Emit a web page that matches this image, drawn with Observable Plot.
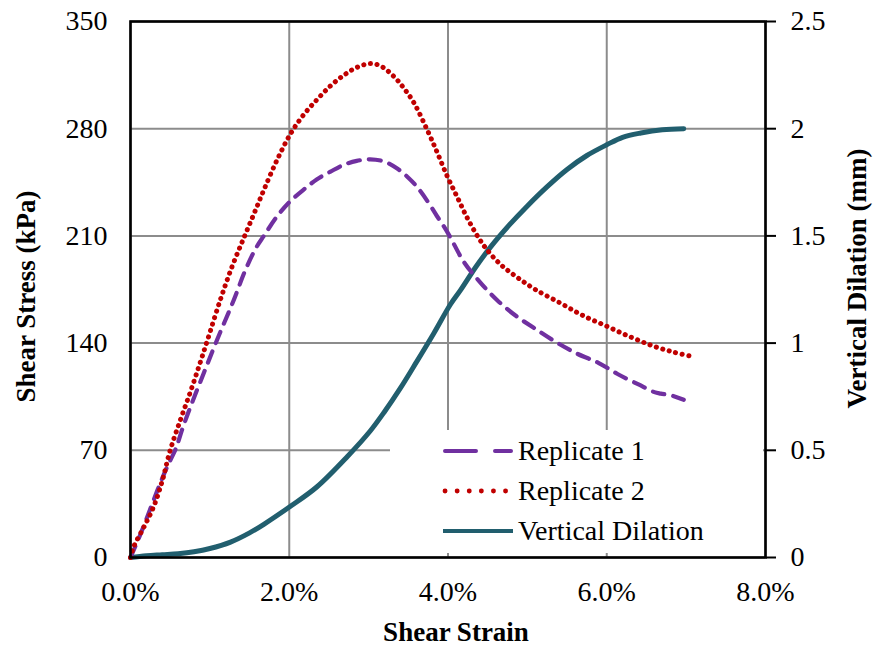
<!DOCTYPE html>
<html>
<head>
<meta charset="utf-8">
<script src="https://cdn.jsdelivr.net/npm/d3@7"></script>
<script src="https://cdn.jsdelivr.net/npm/@observablehq/plot@0.6"></script>
<style>
  html, body { margin: 0; padding: 0; background: #fff; }
  #wrap { position: relative; width: 874px; height: 646px; font-family: "Liberation Serif", "Times New Roman", serif; }
  #legend { position: absolute; left: 390px; top: 430px; width: 373px; height: 123px; background: #fff; }
  #legend svg { position: absolute; left: 0; top: 0; }
</style>
</head>
<body>
<div id="wrap"></div>
<script>
// ---- Data (strain in %, stress in kPa, dilation in mm) ----
const rep1Strain = [0, 0.1, 0.2, 0.34, 0.46, 0.57, 0.66, 0.76, 0.92, 1.09, 1.30, 1.45, 1.58, 1.68, 1.85, 2.02, 2.2, 2.35, 2.52, 2.69, 2.85, 3.02, 3.2, 3.36, 3.5, 3.61, 3.75, 3.86, 3.95, 4.03, 4.2, 4.4, 4.62, 4.85, 5.08, 5.35, 5.63, 5.9, 6.13, 6.4, 6.6, 6.68, 6.8, 6.97];
const rep1Stress = [0, 12, 25, 44, 59, 71, 85, 99, 120, 142, 168, 188, 202, 210, 223, 233, 241, 247, 252, 256.5, 259, 260, 258.5, 254, 248, 242, 232, 223, 216, 209, 193, 180, 168, 158, 150, 141, 133, 127, 120, 113, 108, 107, 106, 103];

const rep2Strain = [0, 0.04, 0.17, 0.29, 0.40, 0.50, 0.63, 0.76, 0.87, 0.97, 1.13, 1.28, 1.43, 1.56, 1.68, 1.85, 2.02, 2.18, 2.35, 2.52, 2.69, 2.85, 3.02, 3.15, 3.32, 3.45, 3.57, 3.74, 3.86, 3.99, 4.12, 4.24, 4.37, 4.49, 4.67, 4.87, 5.1, 5.42, 5.7, 6.0, 6.3, 6.59, 6.85, 7.1];
const rep2Stress = [0, 7, 20, 33, 50, 70, 90, 109, 126, 142, 168, 190, 209, 225, 240, 260, 277, 289, 299, 308, 315, 320, 322.5, 321, 314, 306, 297, 279, 265, 249, 235, 222, 210, 201, 191, 183, 175, 166, 158, 151, 144, 138, 134, 131];

const dilStrain = [0, 0.2, 0.4, 0.6, 0.8, 1.0, 1.26, 1.5, 1.68, 2.02, 2.35, 2.73, 3.02, 3.2, 3.4, 3.6, 3.82, 4.03, 4.16, 4.35, 4.54, 4.77, 5.0, 5.25, 5.5, 5.75, 6.0, 6.2, 6.43, 6.7, 6.97];
const dilMm = [0, 0.008, 0.013, 0.018, 0.027, 0.042, 0.072, 0.115, 0.155, 0.24, 0.33, 0.47, 0.59, 0.68, 0.79, 0.91, 1.045, 1.18, 1.248, 1.355, 1.45, 1.55, 1.64, 1.73, 1.81, 1.875, 1.925, 1.96, 1.98, 1.995, 2.0];

const xTicks = [0, 2, 4, 6, 8];
const stressTicks = [0, 70, 140, 210, 280, 350];
const dilTicks = [0, 0.5, 1, 1.5, 2, 2.5];

const seriesNames = ["Replicate 1", "Replicate 2", "Vertical Dilation"];
const colors = ["#7030a0", "#c00000", "#215e6e"];
const xTitle = "Shear Strain";
const yTitle = "Shear Stress (kPa)";
const y2Title = "Vertical Dilation (mm)";

// ---- Build tables ----
const rep1 = rep1Strain.map((x, i) => ({x, y: rep1Stress[i]}));
const rep2 = rep2Strain.map((x, i) => ({x, y: rep2Stress[i]}));
const STRESS_MAX = 350, DIL_MAX = 2.5, k = STRESS_MAX / DIL_MAX;
const dil = dilStrain.map((x, i) => ({x, y: dilMm[i] * k}));

const grid = {stroke: "#8c8c8c", strokeOpacity: 1, strokeWidth: 2};

const chart = Plot.plot({
  width: 874,
  height: 646,
  marginLeft: 130,
  marginRight: 109,
  marginTop: 21,
  marginBottom: 89,
  style: {fontFamily: "'Liberation Serif', 'Times New Roman', serif", fontSize: "28px", color: "#000", background: "#fff"},
  x: {domain: [0, 8]},
  y: {domain: [0, STRESS_MAX]},
  marks: [
    Plot.gridX(xTicks, grid),
    Plot.gridY(stressTicks, grid),
    Plot.line(dil, {x: "x", y: "y", stroke: colors[2], strokeWidth: 5, curve: "catmull-rom"}),
    Plot.line(rep1, {x: "x", y: "y", stroke: colors[0], strokeWidth: 4.2, strokeDasharray: "12,9", strokeLinecap: "round", curve: "catmull-rom"}),
    Plot.line(rep2, {x: "x", y: "y", stroke: colors[1], strokeWidth: 5, strokeDasharray: "0.1,6.6", strokeLinecap: "round", curve: "catmull-rom"}),
    Plot.frame({stroke: "#000", strokeWidth: 2.6}),
    Plot.axisX(xTicks, {tickSize: 0, tickPadding: 24, tickFormat: d => d.toFixed(1) + "%", label: null, fontSize: 28}),
    Plot.axisY(stressTicks, {anchor: "left", tickSize: 0, tickPadding: 23, tickFormat: d => String(d), label: null, fontSize: 28}),
    Plot.axisY(dilTicks.map(v => v * k), {anchor: "right", tickSize: 10, tickPadding: 15, stroke: "#000", strokeWidth: 2, tickFormat: d => String(+(d / k).toFixed(2)), label: null, fontSize: 28}),
    Plot.text([xTitle], {frameAnchor: "bottom", dy: 75, dx: 8, textAnchor: "middle", lineAnchor: "middle", text: d => d, fontWeight: "bold", fontSize: 27}),
    Plot.text([yTitle], {frameAnchor: "left", dx: -104, dy: 7, rotate: -90, textAnchor: "middle", lineAnchor: "middle", text: d => d, fontWeight: "bold", fontSize: 27}),
    Plot.text([y2Title], {frameAnchor: "right", dx: 92, dy: -11, rotate: -90, textAnchor: "middle", lineAnchor: "middle", text: d => d, fontWeight: "bold", fontSize: 27})
  ]
});

const wrap = document.getElementById("wrap");
wrap.appendChild(chart);

// ---- Legend (HTML overlay with white box) ----
const legend = document.createElement("div");
legend.id = "legend";
const dashes = ["31,19", "0.1,12", null];
const widths = [4, 4.8, 4];
const ns = "http://www.w3.org/2000/svg";
const lsvg = document.createElementNS(ns, "svg");
lsvg.setAttribute("width", 373);
lsvg.setAttribute("height", 123);
seriesNames.forEach((name, i) => {
  const cy = 21 + i * 40;
  const line = document.createElementNS(ns, "line");
  line.setAttribute("x1", i === 2 ? 53 : 55);
  line.setAttribute("x2", i === 1 ? 117 : (i === 2 ? 123 : 121));
  line.setAttribute("y1", cy);
  line.setAttribute("y2", cy);
  line.setAttribute("stroke", colors[i]);
  line.setAttribute("stroke-width", widths[i]);
  line.setAttribute("stroke-linecap", i === 2 ? "butt" : "round");
  if (dashes[i]) line.setAttribute("stroke-dasharray", dashes[i]);
  lsvg.appendChild(line);
  const t = document.createElementNS(ns, "text");
  t.setAttribute("x", 128);
  t.setAttribute("y", cy);
  t.setAttribute("dy", "0.33em");
  t.setAttribute("font-family", "'Liberation Serif', 'Times New Roman', serif");
  t.setAttribute("font-size", 28);
  t.textContent = name;
  lsvg.appendChild(t);
});
legend.appendChild(lsvg);
wrap.appendChild(legend);
</script>
</body>
</html>
